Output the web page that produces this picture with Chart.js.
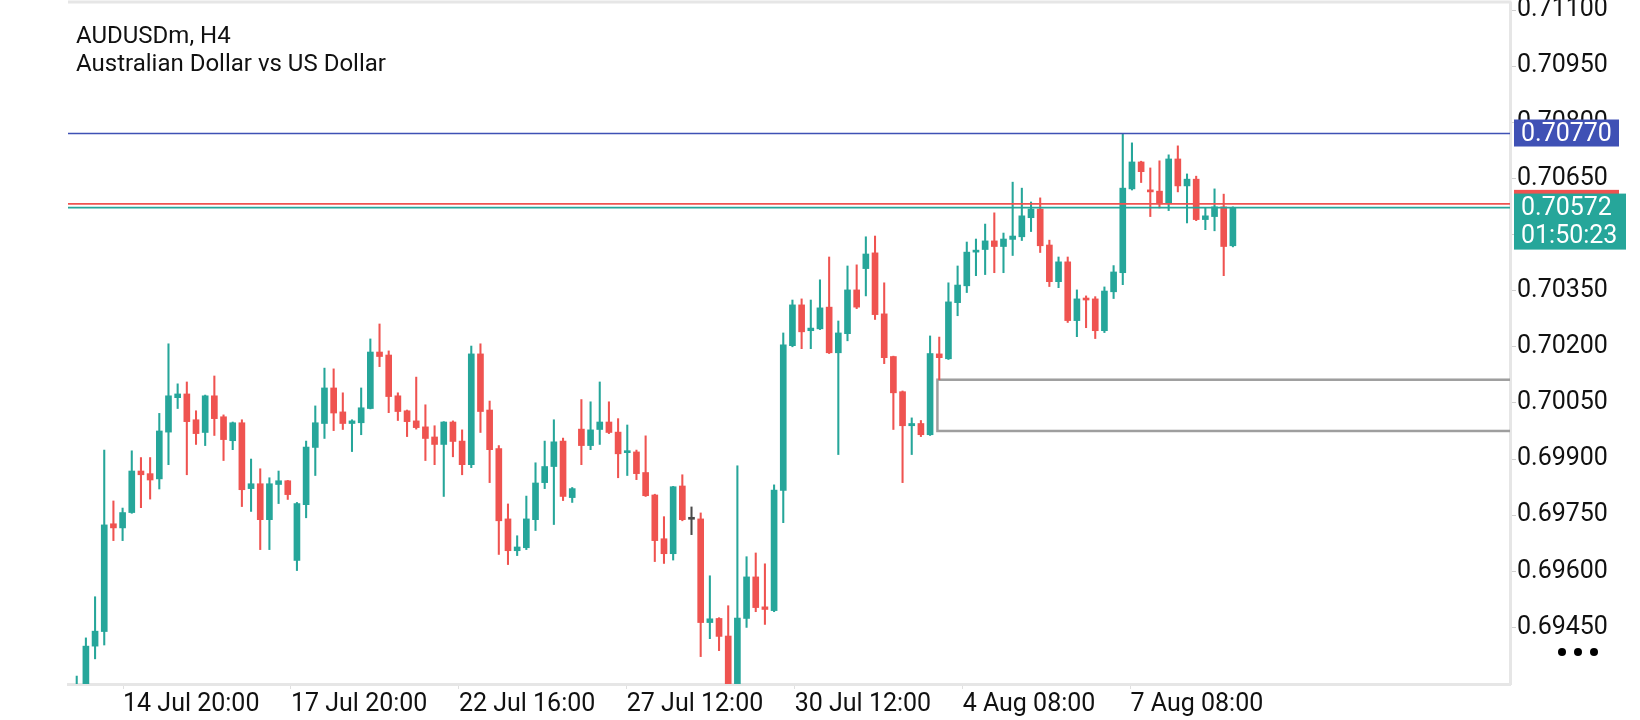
<!DOCTYPE html>
<html><head><meta charset="utf-8">
<script src="https://cdn.jsdelivr.net/npm/chart.js@4.4.0/dist/chart.umd.min.js"></script>
<style>html,body{margin:0;padding:0;background:#fff;overflow:hidden}#wrap{width:1640px;height:720px;position:relative}</style>
</head><body><div id="wrap"><canvas id="c" width="1640" height="720"></canvas></div>
<script>
const titleLine1 = 'AUDUSDm, H4';
const titleLine2 = 'Australian Dollar vs US Dollar';

const opens = [0.69260,0.69280,0.69400,0.69439,0.69727,0.69716,0.69757,0.69868,0.69861,0.69847,
0.69972,0.70064,0.70074,0.70005,0.69971,0.70069,0.70013,0.69949,0.69997,0.69821,
0.69834,0.69738,0.69832,0.69842,0.69629,0.69778,0.69931,0.69995,0.70090,0.70026,
0.69995,0.69997,0.70035,0.70186,0.70178,0.70069,0.70029,0.70002,0.69986,0.69959,
0.69939,0.69999,0.69948,0.69885,0.70181,0.70031,0.69928,0.69740,0.69655,0.69663,
0.69738,0.69837,0.69880,0.69948,0.69797,0.69980,0.69936,0.69979,0.69999,0.69972,
0.69917,0.69919,0.69864,0.69804,0.69687,0.69647,0.69828,0.69739,0.69740,0.69463,
0.69474,0.69427,0.69295,0.69474,0.69585,0.69505,0.69495,0.69816,0.70203,0.70312,
0.70243,0.70248,0.70306,0.70184,0.70235,0.70352,0.70409,0.70451,0.70288,0.70174,
0.70080,0.69989,0.69995,0.69965,0.70181,0.70168,0.70318,0.70363,0.70453,0.70460,
0.70483,0.70468,0.70487,0.70494,0.70545,0.70568,0.70472,0.70374,0.70427,0.70270,
0.70329,0.70328,0.70243,0.70347,0.70398,0.70622,0.70694,0.70619,0.70616,0.70584,
0.70702,0.70630,0.70648,0.70540,0.70548,0.70574,0.70470];
const highs = [0.69320,0.69422,0.69532,0.69924,0.69788,0.69769,0.69922,0.69904,0.69904,0.70022,
0.70208,0.70101,0.70106,0.70029,0.70071,0.70122,0.70018,0.69999,0.70005,0.69900,
0.69874,0.69850,0.69868,0.69843,0.69784,0.69948,0.70042,0.70143,0.70141,0.70077,
0.70005,0.70090,0.70221,0.70261,0.70189,0.70077,0.70031,0.70119,0.70045,0.69989,
0.70000,0.70002,0.69978,0.70202,0.70208,0.70055,0.69936,0.69780,0.69695,0.69801,
0.69890,0.69948,0.70005,0.69956,0.69824,0.70059,0.70053,0.70106,0.70053,0.70008,
0.69991,0.69924,0.69962,0.69806,0.69746,0.69827,0.69858,0.69772,0.69756,0.69588,
0.69476,0.69508,0.69882,0.69639,0.69649,0.69620,0.69831,0.70237,0.70325,0.70328,
0.70325,0.70379,0.70440,0.70269,0.70416,0.70419,0.70494,0.70496,0.70371,0.70175,
0.70082,0.70010,0.70003,0.70229,0.70226,0.70371,0.70416,0.70480,0.70488,0.70528,
0.70558,0.70504,0.70640,0.70624,0.70587,0.70598,0.70485,0.70440,0.70440,0.70352,
0.70336,0.70334,0.70360,0.70417,0.70770,0.70745,0.70696,0.70678,0.70697,0.70713,
0.70737,0.70662,0.70656,0.70571,0.70622,0.70608,0.70574];
const lows = [0.69240,0.69260,0.69366,0.69403,0.69682,0.69682,0.69755,0.69770,0.69793,0.69820,
0.69885,0.70035,0.69858,0.69939,0.69936,0.69963,0.69896,0.69925,0.69773,0.69760,
0.69658,0.69658,0.69781,0.69792,0.69602,0.69743,0.69856,0.69955,0.69976,0.69979,
0.69920,0.69965,0.70034,0.70147,0.70024,0.70003,0.69960,0.69980,0.69896,0.69885,
0.69800,0.69906,0.69858,0.69877,0.69971,0.69837,0.69645,0.69618,0.69642,0.69658,
0.69709,0.69821,0.69725,0.69789,0.69784,0.69885,0.69925,0.69939,0.69968,0.69850,
0.69856,0.69845,0.69800,0.69626,0.69621,0.69630,0.69735,0.69698,0.69372,0.69420,
0.69388,0.69280,0.69280,0.69450,0.69492,0.69458,0.69492,0.69730,0.70200,0.70195,
0.70195,0.70246,0.70182,0.69912,0.70216,0.70302,0.70336,0.70273,0.70155,0.69979,
0.69837,0.69912,0.69960,0.69963,0.70112,0.70166,0.70283,0.70345,0.70390,0.70393,
0.70398,0.70398,0.70444,0.70484,0.70508,0.70452,0.70361,0.70358,0.70265,0.70227,
0.70251,0.70222,0.70238,0.70329,0.70366,0.70619,0.70639,0.70548,0.70571,0.70564,
0.70614,0.70531,0.70537,0.70513,0.70510,0.70390,0.70467];
const closes = [0.69280,0.69400,0.69440,0.69724,0.69716,0.69757,0.69868,0.69858,0.69844,0.69975,
0.70069,0.70074,0.70000,0.69968,0.70069,0.70008,0.69952,0.69997,0.69818,0.69834,
0.69738,0.69834,0.69842,0.69805,0.69781,0.69932,0.69997,0.70090,0.70023,0.69995,
0.70002,0.70037,0.70186,0.70174,0.70067,0.70027,0.70000,0.69984,0.69955,0.69939,
0.69999,0.69947,0.69885,0.70181,0.70027,0.69925,0.69735,0.69655,0.69665,0.69740,
0.69836,0.69880,0.69946,0.69800,0.69821,0.69936,0.69978,0.69999,0.69971,0.69914,
0.69919,0.69861,0.69802,0.69682,0.69647,0.69826,0.69738,0.69739,0.69463,0.69473,
0.69426,0.69295,0.69475,0.69585,0.69503,0.69498,0.69817,0.70205,0.70312,0.70240,
0.70250,0.70304,0.70184,0.70237,0.70352,0.70306,0.70448,0.70286,0.70171,0.70077,
0.69989,0.69995,0.69965,0.70182,0.70171,0.70320,0.70365,0.70453,0.70458,0.70483,
0.70468,0.70488,0.70496,0.70550,0.70568,0.70470,0.70374,0.70427,0.70270,0.70328,
0.70325,0.70243,0.70349,0.70400,0.70624,0.70694,0.70668,0.70614,0.70582,0.70702,
0.70630,0.70648,0.70540,0.70550,0.70574,0.70468,0.70572];

const xTickPos = [5.05, 23.35, 41.65, 59.95, 78.25, 96.55, 114.85];
const xTickLabels = ['14 Jul 20:00','17 Jul 20:00','22 Jul 16:00','27 Jul 12:00','30 Jul 12:00','4 Aug 08:00','7 Aug 08:00'];
const yTicks = [0.6945,0.6960,0.6975,0.6990,0.7005,0.7020,0.7035,0.7050,0.7065,0.7080,0.7095,0.7110];
const xMin = -0.95, xMax = 156.2;
const yMin = 0.692988, yMax = 0.711188;

const highLine = 0.70770;
const bidPrice = 0.70572;
const askPrice = 0.70582;
const timerText = '01:50:23';
const zoneTop = 0.70112, zoneBottom = 0.69975, zoneStart = 93.8;

const UP = '#26a69a', DOWN = '#ef5350', FLAT = '#4a4a4a', BLUE = '#3f51b5';
const FONT = 'Roboto, "Noto Sans", sans-serif';
const AXIS_PX = 25;

const idx = opens.map((_, i) => i);
const candleColor = idx.map(i => closes[i] > opens[i] ? UP : (closes[i] < opens[i] ? DOWN : FLAT));

const overlay = {
  id: 'overlay',
  beforeDatasetsDraw(chart) {
    const {ctx, chartArea: a, scales: {x, y}} = chart;
    ctx.save();
    ctx.beginPath(); ctx.rect(a.left, a.top, a.right - a.left, a.bottom - a.top); ctx.clip();
    const x0 = x.getPixelForValue(zoneStart);
    const y0 = y.getPixelForValue(zoneTop), y1 = y.getPixelForValue(zoneBottom);
    ctx.strokeStyle = '#9e9e9e'; ctx.lineWidth = 2.5;
    ctx.strokeRect(x0, y0, a.right + 20 - x0, y1 - y0);
    ctx.restore();
  },
  afterDraw(chart) {
    const {ctx, chartArea: a, scales: {y}} = chart;
    ctx.save();
    ctx.strokeStyle = '#e6e6e6'; ctx.lineWidth = 3;
    ctx.beginPath(); ctx.moveTo(a.left, 2); ctx.lineTo(a.right + 1.5, 2); ctx.stroke();
    ctx.fillStyle = '#111'; ctx.font = '24px ' + FONT; ctx.textBaseline = 'alphabetic'; ctx.textAlign = 'left';
    ctx.fillText(titleLine1, 76, 42.5);
    ctx.fillText(titleLine2, 76, 70.5);
    const bx = a.right + 4;
    ctx.font = AXIS_PX + 'px ' + FONT; ctx.textBaseline = 'middle';
    const yb = y.getPixelForValue(highLine);
    ctx.fillStyle = BLUE; ctx.fillRect(bx, yb - 14, 105, 27);
    ctx.fillStyle = '#fff'; ctx.fillText(highLine.toFixed(5), bx + 7, yb + 1);
    const ya = y.getPixelForValue(askPrice);
    ctx.fillStyle = DOWN; ctx.fillRect(bx, ya - 14, 105, 28);
    const yg = y.getPixelForValue(bidPrice);
    ctx.fillStyle = UP; ctx.fillRect(bx, yg - 14, 112, 56);
    ctx.fillStyle = '#fff';
    ctx.fillText(bidPrice.toFixed(5), bx + 7, yg + 1);
    ctx.fillText(timerText, bx + 7, yg + 29);
    ctx.fillStyle = '#000';
    [1562, 1578, 1594].forEach(cx => { ctx.beginPath(); ctx.arc(cx, 652, 4, 0, Math.PI * 2); ctx.fill(); });
    ctx.restore();
  }
};

const hline = (v, color, ord) => ({
  type: 'line', data: [{x: xMin, y: v}, {x: xMax, y: v}], borderColor: color, borderWidth: 1.6,
  pointRadius: 0, order: ord
});

new Chart(document.getElementById('c'), {
  type: 'bar',
  data: {
    datasets: [
      hline(highLine, BLUE, 0),
      hline(askPrice, DOWN, 0),
      hline(bidPrice, UP, 0),
      { label: 'body', data: idx.map(i => ({x: i, y: [opens[i], closes[i]]})), backgroundColor: candleColor,
        barThickness: 6, minBarLength: 2, grouped: false, borderWidth: 0, order: 1 },
      { label: 'wick', data: idx.map(i => ({x: i, y: [lows[i], highs[i]]})), backgroundColor: candleColor,
        barThickness: 1.4, grouped: false, borderWidth: 0, order: 2 }
    ]
  },
  options: {
    responsive: false, animation: false, devicePixelRatio: 1,
    layout: { padding: { left: 68, top: 3, right: 0, bottom: 0 } },
    plugins: { legend: { display: false }, tooltip: { enabled: false }, title: { display: false } },
    scales: {
      x: {
        type: 'linear', min: xMin, max: xMax, offset: false,
        afterBuildTicks: s => { s.ticks = xTickPos.map(v => ({value: v})); },
        afterFit: s => { s.height = 36; s.paddingLeft = 0; s.paddingRight = 0; },
        grid: { drawOnChartArea: false, drawTicks: true, tickLength: 5, color: '#e0e0e0', offset: false },
        border: { display: true, color: '#e6e6e6', width: 3 },
        ticks: { autoSkip: false, maxRotation: 0, align: 'start', padding: 1, color: '#111',
          font: { family: FONT, size: AXIS_PX }, callback: (v, i) => xTickLabels[i] }
      },
      y: {
        type: 'linear', position: 'right', min: yMin, max: yMax,
        afterBuildTicks: s => { s.ticks = yTicks.map(v => ({value: v})); },
        afterFit: s => { s.width = 130; s.paddingTop = 0; s.paddingBottom = 0; },
        grid: { drawOnChartArea: false, drawTicks: true, tickLength: 6, color: '#d0d0d0' },
        border: { display: true, color: '#e6e6e6', width: 3 },
        ticks: { autoSkip: false, padding: 1, color: '#111', font: { family: FONT, size: AXIS_PX },
          callback: v => Number(v).toFixed(5) }
      }
    }
  },
  plugins: [overlay]
});
</script></body></html>
